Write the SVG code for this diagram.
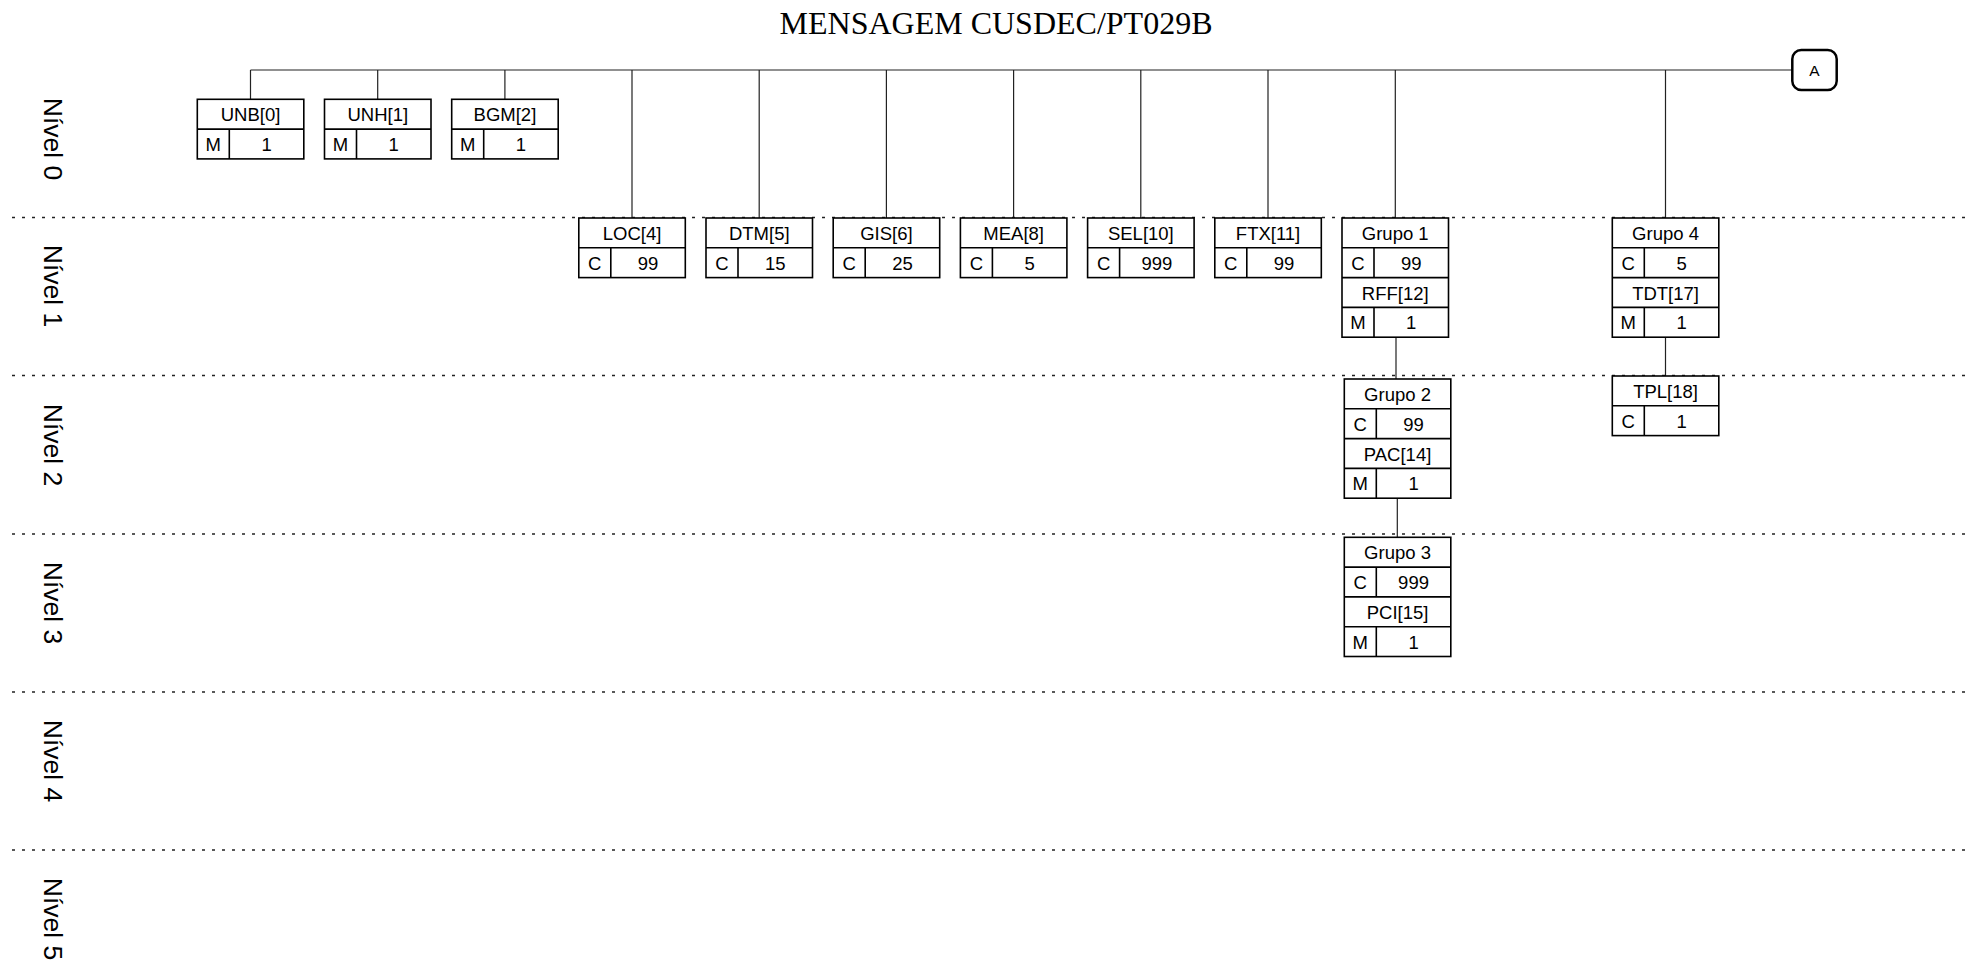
<svg xmlns="http://www.w3.org/2000/svg" width="1971" height="962" viewBox="0 0 1971 962">
<style>
.bg{fill:#fff}
.box{fill:#fff;stroke:#000;stroke-width:1.6}
.ln{stroke:#000;stroke-width:1.6;fill:none}
.t{font-family:"Liberation Sans",Arial,sans-serif;font-size:18.5px;fill:#000;text-anchor:middle}
.title{font-family:"Liberation Serif","Times New Roman",serif;font-size:32px;fill:#000;text-anchor:middle}
.lvl{font-family:"Liberation Sans",Arial,sans-serif;font-size:26.5px;fill:#000;text-anchor:middle;dominant-baseline:central}
.sep{stroke:#222;stroke-width:1.6;stroke-dasharray:3 7;fill:none}
.con{stroke:#222;stroke-width:1.2;fill:none}
.off{fill:#fff;stroke:#000;stroke-width:2.5}
</style>
<rect class="bg" x="0" y="0" width="1971" height="962"/>
<text class="title" x="996" y="34">MENSAGEM CUSDEC/PT029B</text>

<g id="levels">
  <line class="sep" x1="12" y1="217.5" x2="1971" y2="217.5"/>
  <line class="sep" x1="12" y1="375.5" x2="1971" y2="375.5"/>
  <line class="sep" x1="12" y1="534" x2="1971" y2="534"/>
  <line class="sep" x1="12" y1="692" x2="1971" y2="692"/>
  <line class="sep" x1="12" y1="850" x2="1971" y2="850"/>
  <text class="lvl" transform="translate(53,139) rotate(90)">Nível 0</text>
  <text class="lvl" transform="translate(53,286) rotate(90)">Nível 1</text>
  <text class="lvl" transform="translate(53,445) rotate(90)">Nível 2</text>
  <text class="lvl" transform="translate(53,603) rotate(90)">Nível 3</text>
  <text class="lvl" transform="translate(53,761) rotate(90)">Nível 4</text>
  <text class="lvl" transform="translate(53,919) rotate(90)">Nível 5</text>
</g>

<g id="connectors">
  <path class="con" d="M250.5 70 H1792"/>
  <path class="con" d="M250.5 70 V99.3 M377.7 70 V99.3 M504.9 70 V99.3"/>
  <path class="con" d="M632 70 V218 M759.2 70 V218 M886.4 70 V218 M1013.6 70 V218 M1140.8 70 V218 M1268 70 V218 M1395.3 70 V218 M1665.5 70 V218"/>
  <path class="con" d="M1396 337 V379 M1397.3 498 V537.3 M1665.5 337 V376"/>
</g>

<g id="A">
  <rect class="off" x="1792.3" y="50" width="44.4" height="40" rx="9"/>
  <text class="t" x="1814.5" y="75.5" style="font-size:15.5px">A</text>
</g>

<g id="UNB0" transform="translate(197.3,99.3)">
  <rect class="box" width="106.5" height="59.6"/>
  <path class="ln" d="M0 29.8 H106.5 M32 29.8 V59.6"/>
  <text class="t" x="53.25" y="22">UNB[0]</text>
  <text class="t" x="16" y="51.8">M</text>
  <text class="t" x="69.25" y="51.8">1</text>
</g>
<g id="UNH1" transform="translate(324.5,99.3)">
  <rect class="box" width="106.5" height="59.6"/>
  <path class="ln" d="M0 29.8 H106.5 M32 29.8 V59.6"/>
  <text class="t" x="53.25" y="22">UNH[1]</text>
  <text class="t" x="16" y="51.8">M</text>
  <text class="t" x="69.25" y="51.8">1</text>
</g>
<g id="BGM2" transform="translate(451.7,99.3)">
  <rect class="box" width="106.5" height="59.6"/>
  <path class="ln" d="M0 29.8 H106.5 M32 29.8 V59.6"/>
  <text class="t" x="53.25" y="22">BGM[2]</text>
  <text class="t" x="16" y="51.8">M</text>
  <text class="t" x="69.25" y="51.8">1</text>
</g>

<g id="LOC4" transform="translate(578.8,218)">
  <rect class="box" width="106.5" height="59.6"/>
  <path class="ln" d="M0 29.8 H106.5 M32 29.8 V59.6"/>
  <text class="t" x="53.25" y="22">LOC[4]</text>
  <text class="t" x="16" y="51.8">C</text>
  <text class="t" x="69.25" y="51.8">99</text>
</g>
<g id="DTM5" transform="translate(706,218)">
  <rect class="box" width="106.5" height="59.6"/>
  <path class="ln" d="M0 29.8 H106.5 M32 29.8 V59.6"/>
  <text class="t" x="53.25" y="22">DTM[5]</text>
  <text class="t" x="16" y="51.8">C</text>
  <text class="t" x="69.25" y="51.8">15</text>
</g>
<g id="GIS6" transform="translate(833.2,218)">
  <rect class="box" width="106.5" height="59.6"/>
  <path class="ln" d="M0 29.8 H106.5 M32 29.8 V59.6"/>
  <text class="t" x="53.25" y="22">GIS[6]</text>
  <text class="t" x="16" y="51.8">C</text>
  <text class="t" x="69.25" y="51.8">25</text>
</g>
<g id="MEA8" transform="translate(960.4,218)">
  <rect class="box" width="106.5" height="59.6"/>
  <path class="ln" d="M0 29.8 H106.5 M32 29.8 V59.6"/>
  <text class="t" x="53.25" y="22">MEA[8]</text>
  <text class="t" x="16" y="51.8">C</text>
  <text class="t" x="69.25" y="51.8">5</text>
</g>
<g id="SEL10" transform="translate(1087.6,218)">
  <rect class="box" width="106.5" height="59.6"/>
  <path class="ln" d="M0 29.8 H106.5 M32 29.8 V59.6"/>
  <text class="t" x="53.25" y="22">SEL[10]</text>
  <text class="t" x="16" y="51.8">C</text>
  <text class="t" x="69.25" y="51.8">999</text>
</g>
<g id="FTX11" transform="translate(1214.8,218)">
  <rect class="box" width="106.5" height="59.6"/>
  <path class="ln" d="M0 29.8 H106.5 M32 29.8 V59.6"/>
  <text class="t" x="53.25" y="22">FTX[11]</text>
  <text class="t" x="16" y="51.8">C</text>
  <text class="t" x="69.25" y="51.8">99</text>
</g>

<g id="Grupo1" transform="translate(1342,218)">
  <rect class="box" width="106.5" height="119.2"/>
  <path class="ln" d="M0 29.8 H106.5 M0 59.6 H106.5 M0 89.4 H106.5 M32 29.8 V59.6 M32 89.4 V119.2"/>
  <text class="t" x="53.25" y="22">Grupo 1</text>
  <text class="t" x="16" y="51.8">C</text>
  <text class="t" x="69.25" y="51.8">99</text>
  <text class="t" x="53.25" y="81.6">RFF[12]</text>
  <text class="t" x="16" y="111.4">M</text>
  <text class="t" x="69.25" y="111.4">1</text>
</g>
<g id="Grupo2" transform="translate(1344.3,379)">
  <rect class="box" width="106.5" height="119.2"/>
  <path class="ln" d="M0 29.8 H106.5 M0 59.6 H106.5 M0 89.4 H106.5 M32 29.8 V59.6 M32 89.4 V119.2"/>
  <text class="t" x="53.25" y="22">Grupo 2</text>
  <text class="t" x="16" y="51.8">C</text>
  <text class="t" x="69.25" y="51.8">99</text>
  <text class="t" x="53.25" y="81.6">PAC[14]</text>
  <text class="t" x="16" y="111.4">M</text>
  <text class="t" x="69.25" y="111.4">1</text>
</g>
<g id="Grupo3" transform="translate(1344.3,537.3)">
  <rect class="box" width="106.5" height="119.2"/>
  <path class="ln" d="M0 29.8 H106.5 M0 59.6 H106.5 M0 89.4 H106.5 M32 29.8 V59.6 M32 89.4 V119.2"/>
  <text class="t" x="53.25" y="22">Grupo 3</text>
  <text class="t" x="16" y="51.8">C</text>
  <text class="t" x="69.25" y="51.8">999</text>
  <text class="t" x="53.25" y="81.6">PCI[15]</text>
  <text class="t" x="16" y="111.4">M</text>
  <text class="t" x="69.25" y="111.4">1</text>
</g>
<g id="Grupo4" transform="translate(1612.3,218)">
  <rect class="box" width="106.5" height="119.2"/>
  <path class="ln" d="M0 29.8 H106.5 M0 59.6 H106.5 M0 89.4 H106.5 M32 29.8 V59.6 M32 89.4 V119.2"/>
  <text class="t" x="53.25" y="22">Grupo 4</text>
  <text class="t" x="16" y="51.8">C</text>
  <text class="t" x="69.25" y="51.8">5</text>
  <text class="t" x="53.25" y="81.6">TDT[17]</text>
  <text class="t" x="16" y="111.4">M</text>
  <text class="t" x="69.25" y="111.4">1</text>
</g>
<g id="TPL18" transform="translate(1612.3,376)">
  <rect class="box" width="106.5" height="59.6"/>
  <path class="ln" d="M0 29.8 H106.5 M32 29.8 V59.6"/>
  <text class="t" x="53.25" y="22">TPL[18]</text>
  <text class="t" x="16" y="51.8">C</text>
  <text class="t" x="69.25" y="51.8">1</text>
</g>
</svg>
